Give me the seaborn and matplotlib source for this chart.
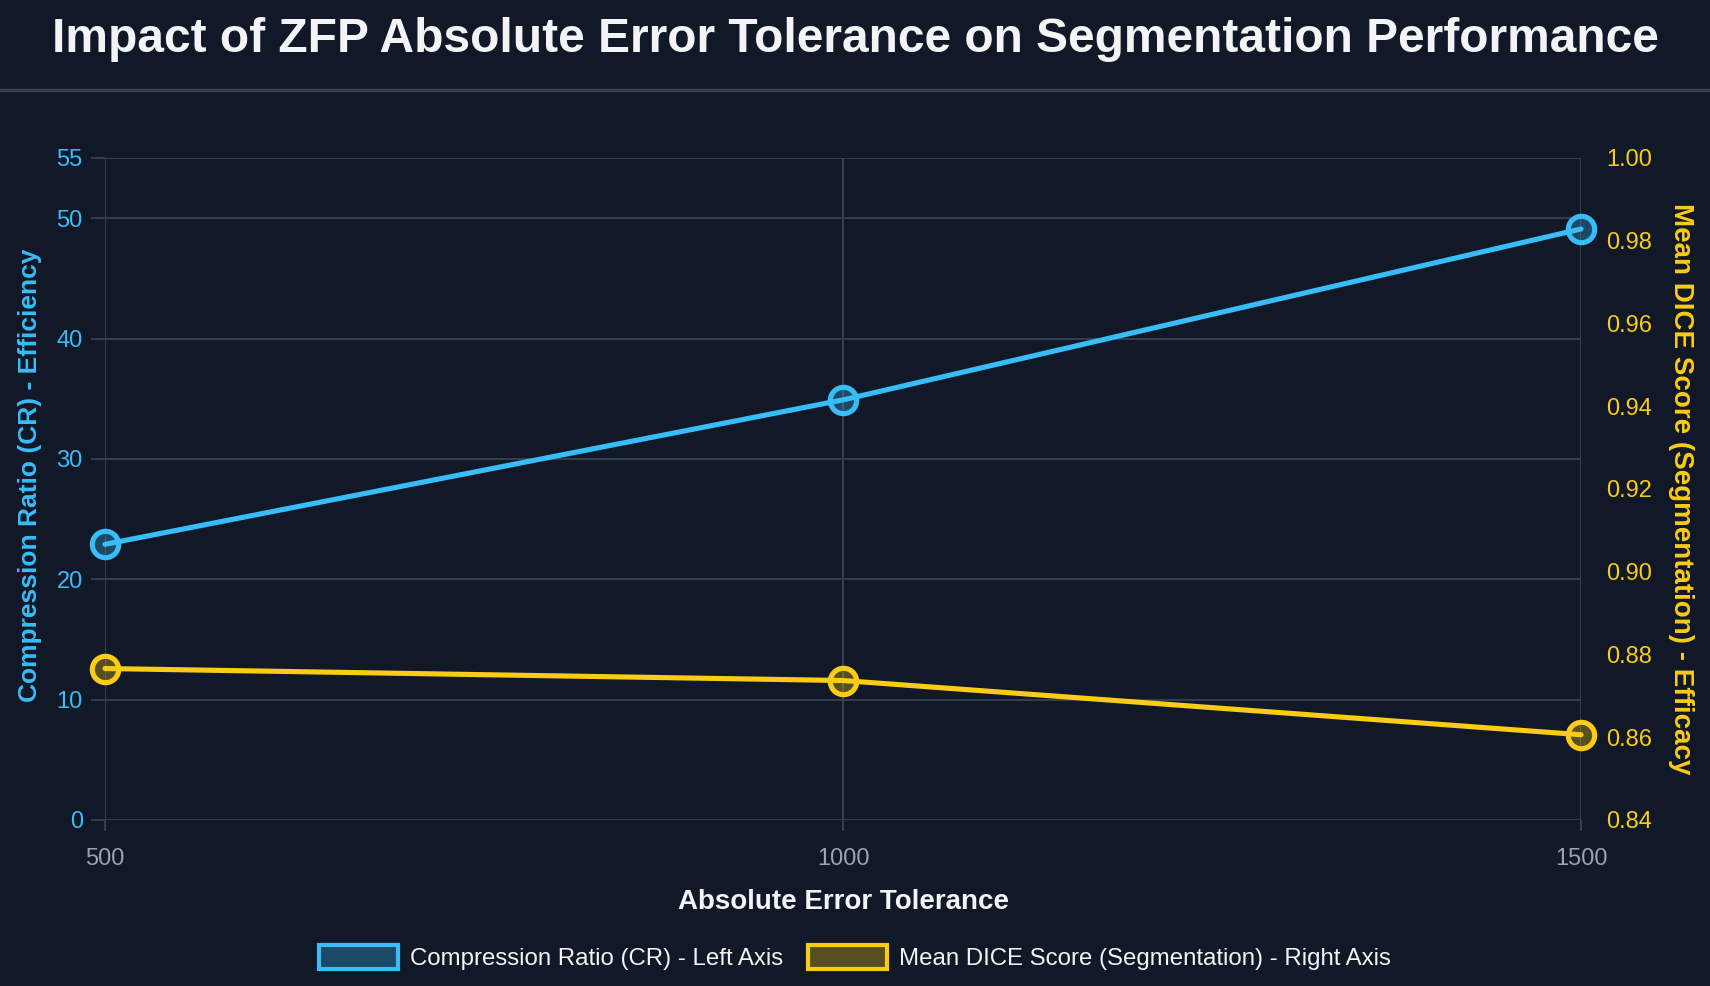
import numpy as np
import pandas as pd
import matplotlib
matplotlib.use("Agg")
import matplotlib.pyplot as plt
import seaborn as sns
from matplotlib.patches import Patch
from matplotlib.lines import Line2D

# data
tolerance = [500, 1000, 1500]
compression_ratio = [22.9, 34.9, 49.1]
mean_dice = [0.8766, 0.8737, 0.8606]

cr_ticks = [0, 10, 20, 30, 40, 50, 55]
dice_ticks = [0.84, 0.86, 0.88, 0.90, 0.92, 0.94, 0.96, 0.98, 1.00]

BG = "#111827"
GRID = "#374151"
BLUE = "#38bdf8"
YELLOW = "#facc15"
TEXT = "#f3f4f6"
MUTED = "#9ca3af"

sns.set_theme(style="dark")
plt.rcParams["font.family"] = ["Liberation Sans", "DejaVu Sans"]

df = pd.DataFrame({"tol": tolerance, "cr": compression_ratio, "dice": mean_dice})

fig = plt.figure(figsize=(17.1, 9.86), dpi=100, facecolor=BG)
ax = fig.add_axes([0.0614, 0.1684, 0.8632, 0.6714])
ax.set_facecolor(BG)
ax2 = ax.twinx()

sns.lineplot(data=df, x="tol", y="cr", ax=ax, color=BLUE, linewidth=3.7,
             marker="o", markersize=19, markeredgewidth=3.7,
             markeredgecolor=BLUE, markerfacecolor=(0.22, 0.74, 0.97, 0.3),
             clip_on=False, zorder=5)
sns.lineplot(data=df, x="tol", y="dice", ax=ax2, color=YELLOW, linewidth=3.7,
             marker="o", markersize=19, markeredgewidth=3.7,
             markeredgecolor=YELLOW, markerfacecolor=(0.98, 0.8, 0.08, 0.3),
             clip_on=False, zorder=5)

ax.set_xlim(500, 1500)
ax.set_ylim(0, 55)
ax2.set_ylim(0.84, 1.00)
ax.set_xticks(tolerance)
ax.set_yticks(cr_ticks)
ax2.set_yticks(dice_ticks)
ax2.set_yticklabels([f"{v:.2f}" for v in dice_ticks])

for a in (ax, ax2):
    for s in a.spines.values():
        s.set_visible(False)
ax2.grid(False)
ax.grid(True, color=GRID, linewidth=1.3)

ax.tick_params(axis="x", colors=GRID, labelcolor=MUTED, labelsize=17,
               length=8, width=1.3, pad=12, bottom=True)
ax.tick_params(axis="y", colors=GRID, labelcolor=BLUE, labelsize=17,
               length=10, width=1.3, pad=6, left=True)
ax2.tick_params(axis="y", colors=GRID, labelcolor=YELLOW, labelsize=17,
                length=0, pad=18, right=True)

ax.set_xlabel("Absolute Error Tolerance", color=TEXT, fontsize=20,
              fontweight="bold", labelpad=14)
ax.set_ylabel("Compression Ratio (CR) - Efficiency", color=BLUE, fontsize=19,
              fontweight="bold")
ax.yaxis.set_label_coords(-0.043, 0.52)
ax2.set_ylabel("Mean DICE Score (Segmentation) - Efficacy", color=YELLOW,
               fontsize=20, fontweight="bold", rotation=-90, labelpad=30)

fig.text(0.5, 0.96, "Impact of ZFP Absolute Error Tolerance on Segmentation Performance",
         ha="center", va="center", color=TEXT, fontsize=34.5, fontweight="bold")
fig.add_artist(Line2D([0, 1], [0.909, 0.909], color=GRID, linewidth=2.5))

handles = [
    Patch(facecolor=(0.22, 0.74, 0.97, 0.3), edgecolor=BLUE, linewidth=3,
          label="Compression Ratio (CR) - Left Axis"),
    Patch(facecolor=(0.98, 0.8, 0.08, 0.3), edgecolor=YELLOW, linewidth=3,
          label="Mean DICE Score (Segmentation) - Right Axis"),
]
fig.legend(handles=handles, loc="center", bbox_to_anchor=(0.5, 0.029), ncol=2,
           frameon=False, fontsize=17.3, labelcolor=TEXT, handlelength=3.3,
           handleheight=1.2, handletextpad=0.5, columnspacing=1.0)

fig.savefig("out.png", dpi=100, facecolor=BG)
